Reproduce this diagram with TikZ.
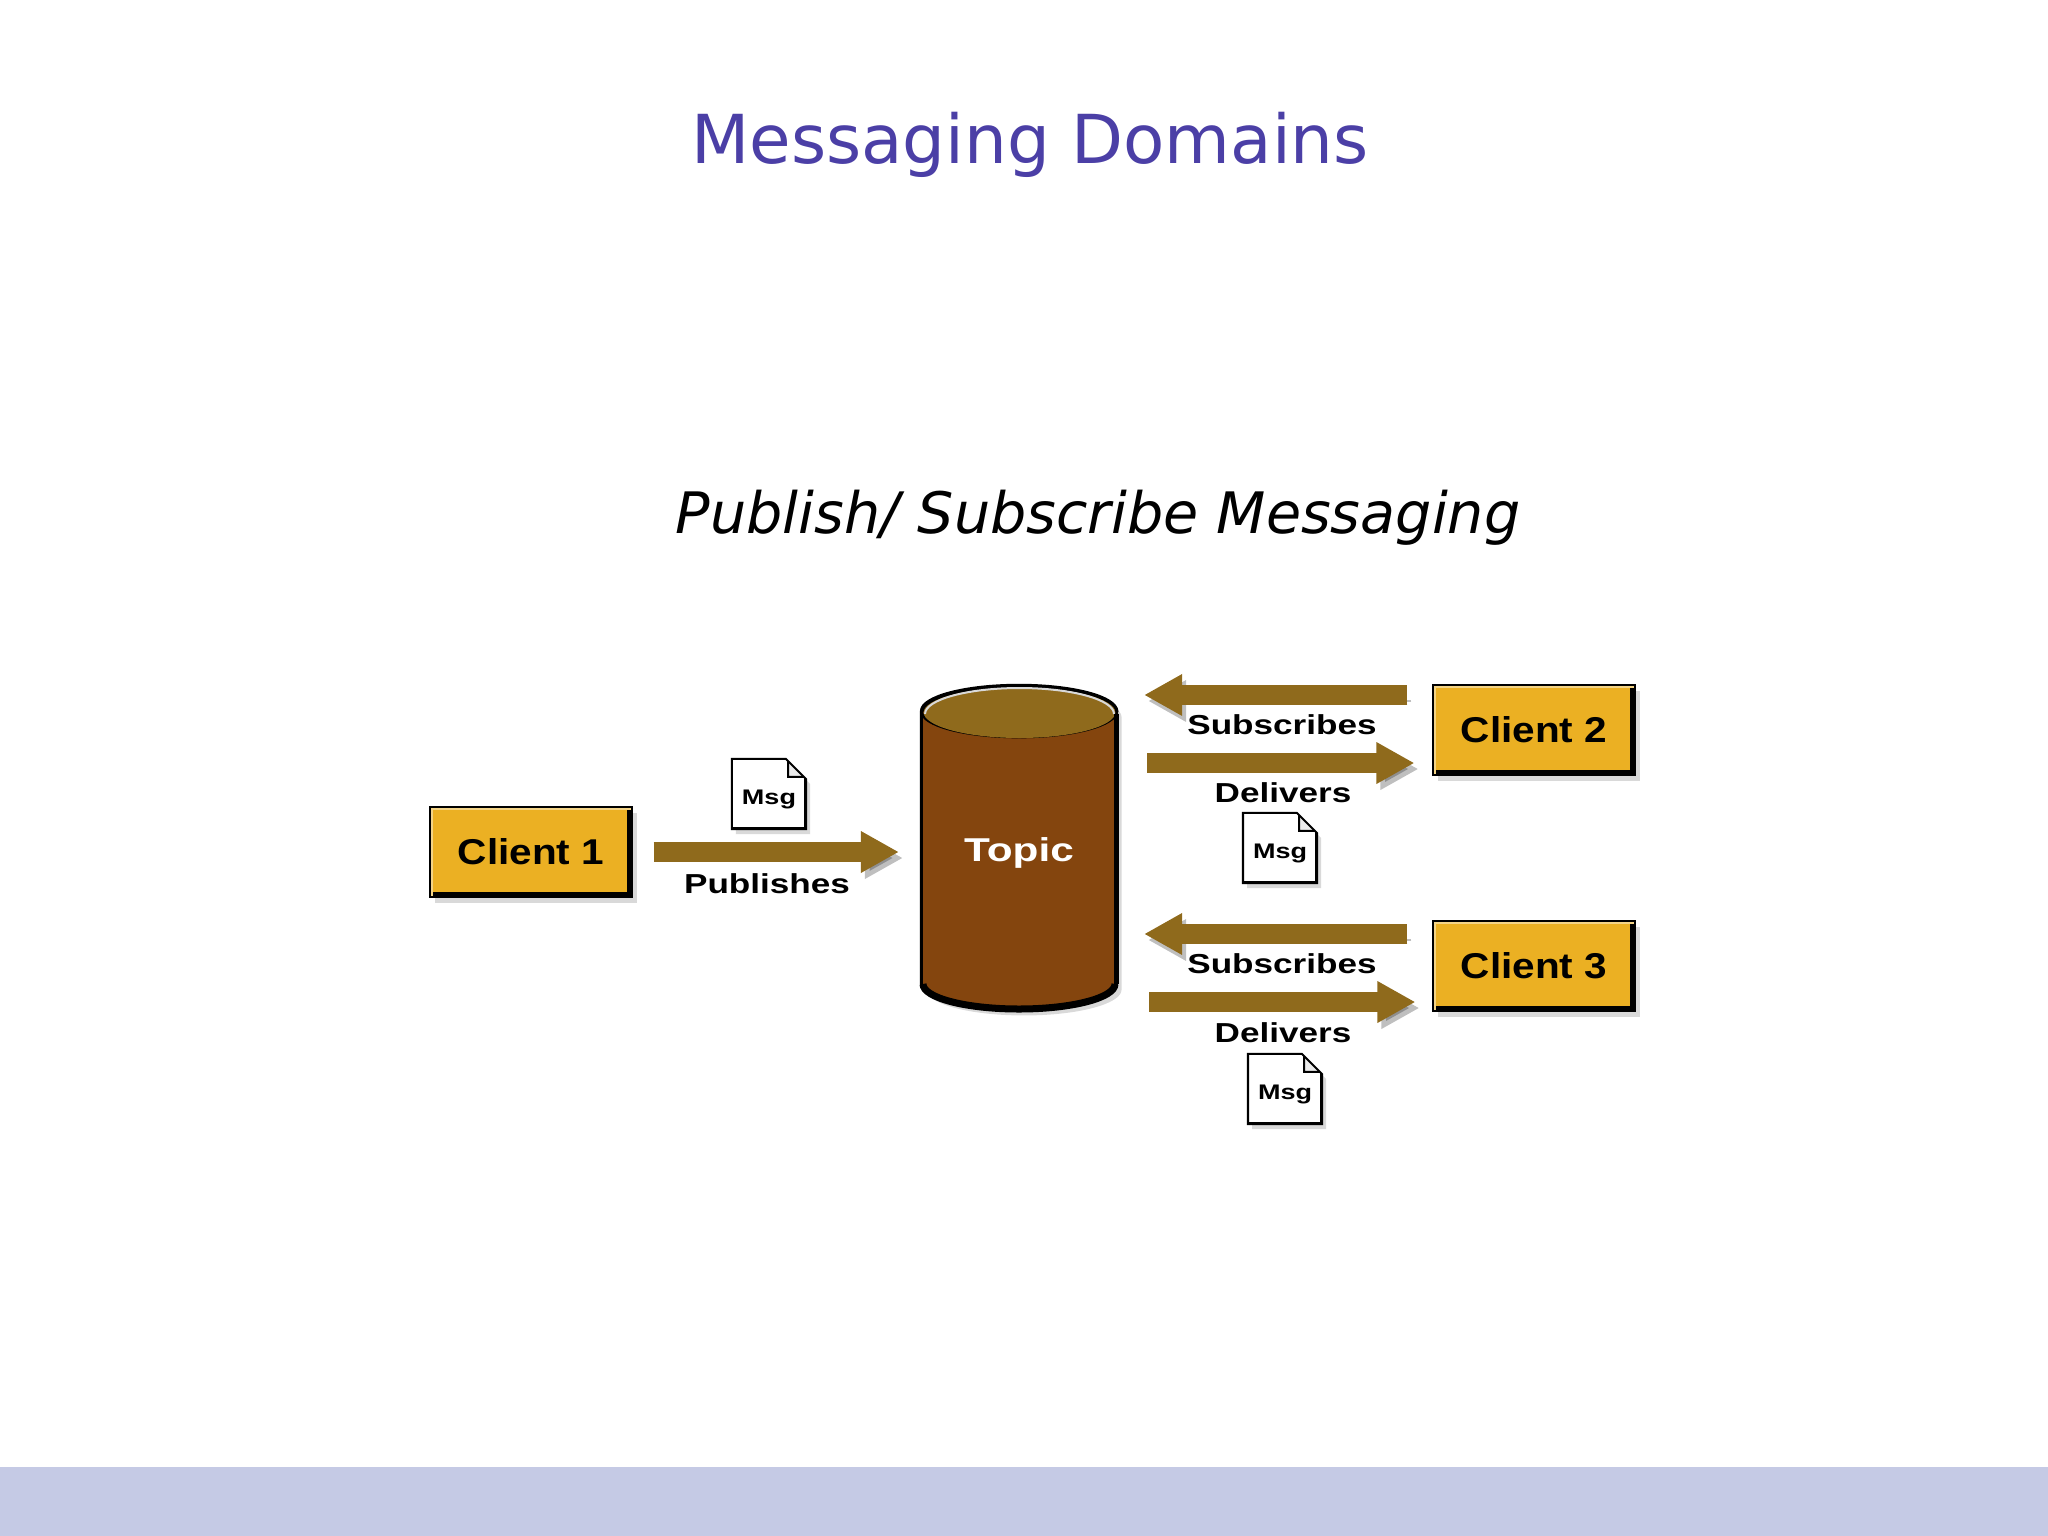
\documentclass[tikz,border=0pt]{standalone}
\usepackage{fontspec}
\setmainfont{DejaVu Sans}
\newfontfamily\lblfont[FakeStretch=1.28]{Liberation Sans Bold}
\newfontfamily\clifont[FakeStretch=1.13]{Liberation Sans Bold}
\usetikzlibrary{arrows.meta,shadows,shapes.geometric,shapes.misc}
\definecolor{titreblue}{HTML}{4B3FA6}
\definecolor{bandblue}{HTML}{C5CAE5}
\definecolor{gold}{HTML}{EBB023}
\definecolor{arrowbrown}{HTML}{8F6A1C}
\definecolor{topicbrown}{HTML}{84450E}
\begin{document}
\begin{tikzpicture}[x=0.01cm, y=-0.01cm]
\tikzset{clientbox/.style={draw=black, line width=0.02cm, fill=gold, minimum width=2.01cm, minimum height=0.89cm, inner sep=0pt, font=\clifont\fontsize{10.2}{12}\selectfont, drop shadow={shadow xshift=0.05cm, shadow yshift=-0.06cm, opacity=0.3},
  path picture={\draw[black, line width=0.09cm] (path picture bounding box.north east) -- (path picture bounding box.south east) -- (path picture bounding box.south west);
    \draw[gold!55!white, line width=0.05cm] (path picture bounding box.south west) -- (path picture bounding box.north west) -- (path picture bounding box.north east);}}}
\tikzset{msgdoc/.style={chamfered rectangle, chamfered rectangle corners=north east, chamfered rectangle xsep=0.1cm, chamfered rectangle ysep=0.1cm, draw=black, line width=0.02cm, fill=white, minimum width=0.63cm, minimum height=0.70cm, inner sep=0pt, text height=0.21cm, text depth=0pt, font=\lblfont\fontsize{6}{7}\selectfont, drop shadow={shadow xshift=0.04cm, shadow yshift=-0.05cm, opacity=0.3},
  path picture={\draw[black, fill=black!8, line width=0.02cm] ([xshift=-0.18cm]path picture bounding box.north east) -- ++(0,18) -- ++(18,0) -- cycle;
    \draw[black, line width=0.05cm] (path picture bounding box.north east) -- (path picture bounding box.south east) -- (path picture bounding box.south west);}}}
\tikzset{flow/.style={draw=arrowbrown, line width=0.2cm, -{Triangle[length=0.38cm, width=0.39cm]}, shorten <=0.25cm, shorten >=0.26cm, preaction={draw=black, opacity=0.25, transform canvas={xshift=0.04cm, yshift=-0.06cm}}}}
\tikzset{lbl/.style={font=\lblfont\fontsize{7.8}{9}\selectfont, inner sep=0pt}}
\useasboundingbox (0,0) rectangle (2048,1536);
\fill[bandblue] (0,1467) rectangle (2048,1536);
\node[text=titreblue, font=\fontsize{19.2}{23}\selectfont] (titre) at (1030,145) {Messaging Domains};
\node[font=\itshape\fontsize{16.25}{19}\selectfont] (soustitre) at (1098,518) {Publish/ Subscribe Messaging};
\node[clientbox] (C1) at (531,852) {Client 1};
\node[clientbox] (C2) at (1534,730) {Client 2};
\node[clientbox] (C3) at (1534,966) {Client 3};
\node[cylinder, shape border rotate=90, aspect=0.47, draw=black, line width=0.03cm, minimum width=1.95cm, minimum height=3.24cm, inner sep=0pt, fill=topicbrown, text=white, font=\lblfont\fontsize{9.4}{11}\selectfont, drop shadow={shadow xshift=0.05cm, shadow yshift=-0.06cm, opacity=0.3}] (T) at (1019,861) {\raisebox{0cm}[0pt][0pt]{Topic}};
% top of the drum and its rims
\fill[arrowbrown] (1019.5,712) ellipse (96 and 26);
\draw[black, line width=0.03cm] (922,712) arc[start angle=180, end angle=360, x radius=97.5, y radius=26];
\draw[white!85!black, line width=0.02cm] (925,714) arc[start angle=180, end angle=360, x radius=94.5, y radius=26];
\draw[black, line width=0.07cm] (923,984) arc[start angle=180, end angle=0, x radius=96, y radius=25];
\draw[black, line width=0.05cm] (1116,714) -- (1116,984);
\node[msgdoc] (M1) at (769,794) {Msg};
\node[msgdoc] (M2) at (1280,848) {Msg};
\node[msgdoc] (M3) at (1285,1089) {Msg};
\node[lbl] (P1) at (767,884) {Publishes};
\node[lbl] (S2) at (1282,725) {Subscribes};
\node[lbl] (D2) at (1283,793) {Delivers};
\node[lbl] (S3) at (1282,964) {Subscribes};
\node[lbl] (D3) at (1283,1033) {Delivers};
\draw[flow, shorten <=0.21cm, shorten >=0.21cm] (C1.east) -- (C1.east -| T.west);
\draw[flow] ([yshift=0.35cm]C2.west) -- ([yshift=0.35cm]C2.west -| T.east);
\draw[flow, shorten <=0.29cm, shorten >=0.18cm] ([yshift=-0.33cm]C2.west -| T.east) -- ([yshift=-0.33cm]C2.west);
\draw[flow] ([yshift=0.32cm]C3.west) -- ([yshift=0.32cm]C3.west -| T.east);
\draw[flow, shorten <=0.31cm, shorten >=0.17cm] ([yshift=-0.36cm]C3.west -| T.east) -- ([yshift=-0.36cm]C3.west);
\end{tikzpicture}
\end{document}
